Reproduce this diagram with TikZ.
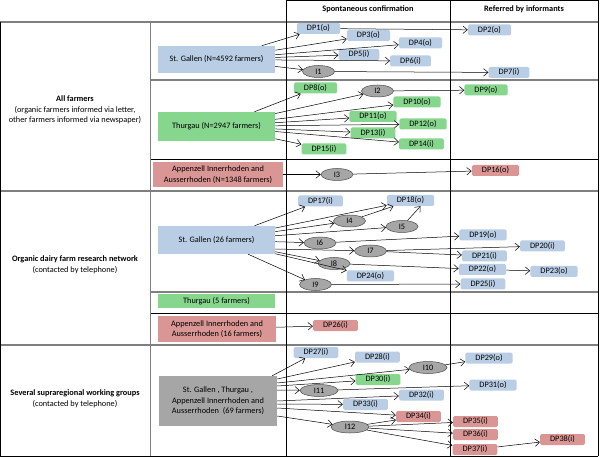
\documentclass[tikz,border=0pt]{standalone}
\usepackage{fontspec}
\setmainfont{Carlito}
\usetikzlibrary{arrows.meta,shapes.geometric}
\definecolor{sgblue}{HTML}{B9CDE5}
\definecolor{tggreen}{HTML}{86D68E}
\definecolor{apred}{HTML}{D99694}
\definecolor{grpgray}{HTML}{A6A6A6}
\definecolor{rulegray}{HTML}{7F7F7F}
\tikzset{
  region/.style={fill=#1,inner sep=0pt,align=center,
    font=\fontsize{8.3}{10.5}\selectfont},
  dp/.style={fill=#1,rounded corners=1.5pt,inner xsep=10pt,inner ysep=0pt,
    minimum height=11pt},
  inf/.style={ellipse,draw=black!70,fill=grpgray,inner sep=0pt,
    minimum width=32pt,minimum height=12pt},
  wideinf/.style={inf,minimum width=38pt},
  rowlabel/.style={align=center,font=\fontsize{8.3}{10.5}\selectfont},
  thickrule/.style={rulegray,line width=1.3pt},
  thinrule/.style={black,line width=.7pt},
}
\begin{document}
\begin{tikzpicture}[x=1pt,y=-1pt,>={Straight Barb[length=4.5pt,width=7.5pt]},
    font=\fontsize{8.3}{10}\selectfont,line width=.5pt]
  \useasboundingbox (0,0) rectangle (600,457);
  % grid of the table
  \draw[thinrule] (286.5,0) -- (598,0);
  \draw[thickrule] (0,22) -- (598,22);
  \draw[thickrule] (150,80) -- (598,80);
  \draw[thinrule] (150,159) -- (598,159);
  \draw[thickrule] (0,191) -- (598,191);
  \draw[thickrule] (150,292) -- (598,292);
  \draw[thinrule] (150,313) -- (598,313);
  \draw[thickrule] (0,345) -- (598,345);
  \draw[thinrule] (0,456) -- (598,456);
  \draw[thinrule] (0,22) -- (0,456);
  \draw[rulegray,line width=.9pt] (150,22) -- (150,456);
  \draw[thinrule] (286.5,0) -- (286.5,456);
  \draw[thinrule] (450,0) -- (450,456);
  \draw[thinrule] (598,0) -- (598,456);
  \node[font=\fontsize{8.3}{10}\bfseries] (hspont) at (368,9) {Spontaneous confirmation};
  \node[font=\fontsize{8.3}{10}\bfseries] (hrefer) at (524,9) {Referred by informants};

  % recruiting channels
  \node[rowlabel] (allf) at (75,110) {\textbf{All farmers}\\(organic farmers informed via letter,\\other farmers informed via newspaper)};
  \node[rowlabel] (odfn) at (75,265) {\textbf{Organic dairy farm research network}\\(contacted by telephone)};
  \node[rowlabel] (swg) at (75,399) {\textbf{Several supraregional working groups}\\(contacted by telephone)};

  % cantons
  \node[region=sgblue,minimum width=117pt,minimum height=27pt] (sg1) at (216.5,59.5) {St. Gallen (N=4592 farmers)};
  \node[region=tggreen,minimum width=117pt,minimum height=29pt] (tg1) at (216.5,126.5) {Thurgau (N=2947 farmers)};
  \node[region=apred,minimum width=130pt,minimum height=25pt] (ap1) at (218,174.5) {Appenzell Innerrhoden and\\Ausserrhoden (N=1348 farmers)};
  \node[region=sgblue,minimum width=117pt,minimum height=28pt] (sg2) at (216.5,240) {St. Gallen (26 farmers)};
  \node[region=tggreen,minimum width=117pt,minimum height=14pt] (tg2) at (216.5,301) {Thurgau (5 farmers)};
  \node[region=apred,minimum width=118pt,minimum height=26pt] (ap2) at (217,329) {Appenzell Innerrhoden and\\Ausserrhoden (16 farmers)};
  \node[region=grpgray,minimum width=118pt,minimum height=50pt] (grp) at (218,401) {St. Gallen , Thurgau ,\\Appenzell Innerrhoden and\\Ausserrhoden~~(69 farmers)};

  % all farmers
  \node[dp=sgblue] (dp1) at (318.5,28.5) {DP1(o)};
  \node[dp=sgblue] (dp2) at (489.5,30) {DP2(o)};
  \node[dp=sgblue] (dp3) at (368.5,35.5) {DP3(o)};
  \node[dp=sgblue] (dp4) at (420.5,43) {DP4(o)};
  \node[dp=sgblue] (dp5) at (359,54.5) {DP5(i)};
  \node[dp=sgblue] (dp6) at (410.5,61) {DP6(i)};
  \node[inf] (i1) at (318.5,71.5) {I1};
  \node[dp=sgblue] (dp7) at (509,72.5) {DP7(i)};
  \node[dp=tggreen] (dp8) at (315.5,88) {DP8(o)};
  \node[inf] (i2) at (377.5,91) {I2};
  \node[dp=tggreen] (dp9) at (486,90) {DP9(o)};
  \node[dp=tggreen] (dp10) at (417,102) {DP10(o)};
  \node[dp=tggreen] (dp11) at (373,116.5) {DP11(o)};
  \node[dp=tggreen] (dp12) at (423,124) {DP12(o)};
  \node[dp=tggreen] (dp13) at (373,133) {DP13(i)};
  \node[dp=tggreen] (dp14) at (421.5,144) {DP14(i)};
  \node[dp=tggreen] (dp15) at (324,149) {DP15(i)};
  \node[inf] (i3) at (337,174.5) {I3};
  \node[dp=apred] (dp16) at (495.5,170.5) {DP16(o)};

  % research network
  \node[dp=sgblue] (dp17) at (320.5,201) {DP17(i)};
  \node[dp=sgblue] (dp18) at (410.5,200.5) {DP18(o)};
  \node[inf] (i4) at (349.5,221) {I4};
  \node[inf] (i5) at (402,226.5) {I5};
  \node[dp=sgblue] (dp19) at (483,235) {DP19(o)};
  \node[inf] (i6) at (320,243) {I6};
  \node[inf] (i7) at (370.5,251) {I7};
  \node[dp=sgblue] (dp20) at (542.5,246) {DP20(i)};
  \node[dp=sgblue] (dp21) at (484.5,256) {DP21(i)};
  \node[inf] (i8) at (334,263.5) {I8};
  \node[dp=sgblue] (dp22) at (482.5,269.5) {DP22(o)};
  \node[dp=sgblue] (dp23) at (554,271.5) {DP23(o)};
  \node[dp=sgblue] (dp24) at (370.5,276) {DP24(o)};
  \node[inf] (i9) at (315.5,284.5) {I9};
  \node[dp=sgblue] (dp25) at (483,284) {DP25(i)};
  \node[dp=apred] (dp26) at (335.5,325.5) {DP26(i)};

  % working groups
  \node[dp=sgblue] (dp27) at (316,352.5) {DP27(i)};
  \node[dp=sgblue] (dp28) at (377.5,357) {DP28(i)};
  \node[wideinf] (i10) at (428,367.5) {I10};
  \node[dp=sgblue] (dp29) at (489,358) {DP29(o)};
  \node[dp=tggreen] (dp30) at (378,379.5) {DP30(i)};
  \node[wideinf] (i11) at (319,390.5) {I11};
  \node[dp=sgblue] (dp31) at (493,385) {DP31(o)};
  \node[dp=sgblue] (dp32) at (421.5,395) {DP32(i)};
  \node[dp=sgblue] (dp33) at (365.5,404.5) {DP33(i)};
  \node[dp=apred] (dp34) at (418.5,416.5) {DP34(i)};
  \node[wideinf] (i12) at (350,427) {I12};
  \node[dp=apred] (dp35) at (475.5,421.5) {DP35(i)};
  \node[dp=apred] (dp36) at (475.5,434.5) {DP36(i)};
  \node[dp=apred] (dp37) at (475,449.5) {DP37(i)};
  \node[dp=apred] (dp38) at (562.5,439.5) {DP38(i)};

  % contacts
  \foreach \t in {dp1,dp3,dp4,dp5,dp6,i1} \draw[->] (sg1) -- (\t);
  \foreach \t in {dp8,i2,dp10,dp11,dp12,dp13,dp14,dp15} \draw[->] (tg1) -- (\t);
  \foreach \t in {dp17,dp18,i4,i5,i6,i8,dp24,i9} \draw[->] (sg2) -- (\t);
  % the line to I7 runs just under I6
  \draw[->] ([yshift=-9pt]sg2.east) -- (i7);
  % working group lines leave the box one below the other
  \draw[->] ([xshift=-5pt]grp.north east) -- (dp27);
  \foreach \t/\s in {dp28/22,i10/18,dp30/15,i11/11,dp32/0,dp33/-3,dp34/-7,i12/-15}
    \draw[->] ([yshift=\s pt]grp.east) -- (\t);
  \foreach \t in {dp34,dp35,dp36,dp37} \draw[->] (i12) -- (\t);
  \draw[->] (dp1) -- (dp2);
  \draw[->] (i1) -- (dp7);
  \draw[->] (i2) -- (dp9);
  \draw[->] (ap1) -- (i3);
  \draw[->] (i3) -- (dp16);
  \draw[->] (i4) -- (dp18);
  \draw[->] (i5) -- ([xshift=10pt]dp18.south);
  \draw[->] (i6) -- (dp19);
  \draw[->] (i7) -- (dp20);
  \draw[->] (i7) -- (dp21);
  \draw[->] (i8) -- (dp22);
  \draw[->] (dp22) -- (dp23);
  \draw[->] (i9) -- (dp25);
  \draw[->] (ap2) -- (dp26);
  \draw[->] (i10) -- (dp29);
  \draw[->] (i11) -- (dp31);
  \draw[->] (dp37) -- (dp38);
\end{tikzpicture}
\end{document}
